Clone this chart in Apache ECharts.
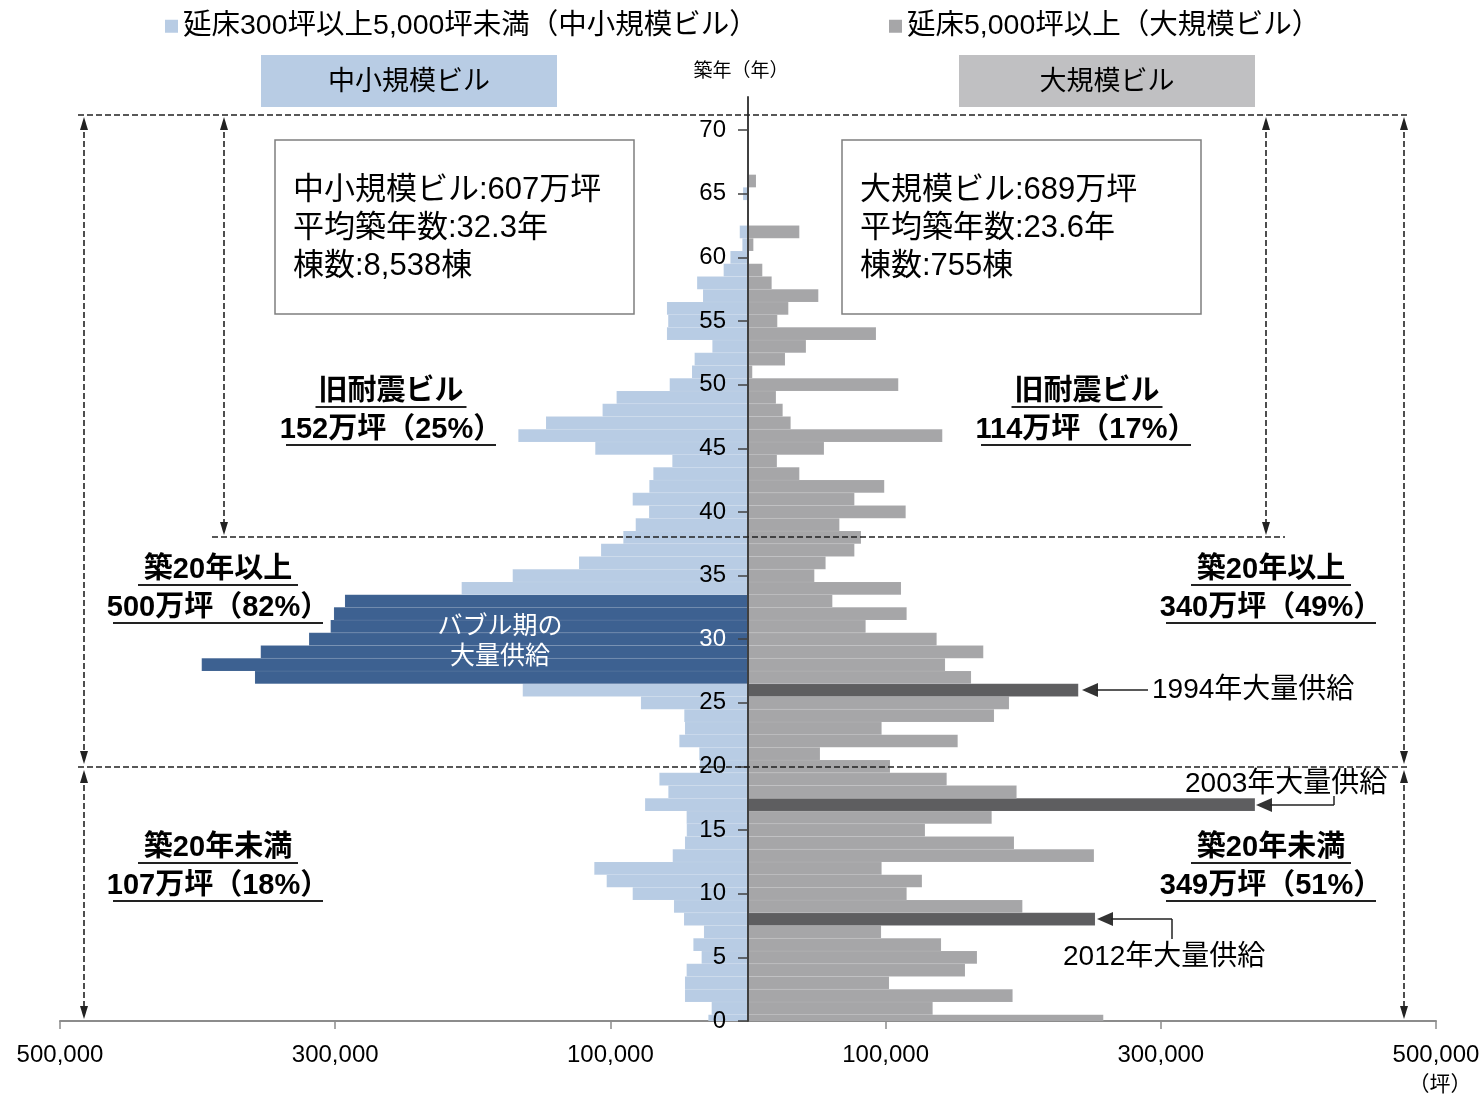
<!DOCTYPE html>
<html>
<head>
<meta charset="utf-8">
<script src="https://cdn.jsdelivr.net/npm/echarts@6/dist/echarts.min.js"></script>
<style>
html, body { margin: 0; padding: 0; background: #fff; }
#chart { width: 1482px; height: 1098px; }
</style>
</head>
<body>
<div id="chart"></div>
<script>
var FONT = '"Liberation Sans", "Noto Sans CJK JP", sans-serif';

// 築年数ごとの延床面積（坪）  index = 築年数（0〜66年）
var smallArea = [
  28800, 26400, 45800, 45800, 44600, 33700, 39700, 32000, 46500, 53800,
  83800, 102700, 111700, 54700, 45800, 44500, 44600, 74800, 57900, 64400,
  35000, 35400, 49900, 45800, 46300, 77800, 163700, 358300, 397000, 354100,
  319000, 303300, 300900, 292900, 208100, 171000, 122800, 106800, 90600, 81600,
  71900, 83800, 71700, 68800, 55000, 111000, 166900, 146800, 105700, 95500,
  56900, 40700, 38800, 25900, 58900, 58000, 58900, 32700, 37000, 17700,
  12800, 4100, 6000, 0, 0, 3600, 0
];
var largeArea = [
  258200, 134200, 192300, 102500, 157700, 166400, 140300, 96700, 252200, 199400,
  115300, 126400, 97100, 251400, 193300, 128600, 177100, 368400, 195200, 144400,
  103200, 52300, 152400, 97100, 178800, 189700, 240000, 162100, 143200, 171000,
  137100, 85500, 115300, 61300, 111200, 48200, 56400, 77300, 82100, 66400,
  114600, 77300, 99000, 37300, 21000, 55200, 141200, 31000, 25200, 20300,
  109200, 3100, 26900, 42100, 93000, 21300, 29300, 51100, 17200, 10400,
  0, 3900, 37300, 0, 0, 0, 5800
];
var bubbleAges = [27, 28, 29, 30, 31, 32, 33];   // バブル期の大量供給
var peakAges = [26, 17, 8];                       // 1994年・2003年・2012年
var yTicks = [0, 5, 10, 15, 20, 25, 30, 35, 40, 45, 50, 55, 60, 65, 70];
var xTicks = [-500000, -300000, -100000, 100000, 300000, 500000];

var NAME_S = '延床300坪以上5,000坪未満（中小規模ビル）';
var NAME_L = '延床5,000坪以上（大規模ビル）';

var chart = echarts.init(document.getElementById('chart'));

function barItem(side, hiAges, color, hiColor) {
  return function (params, api) {
    var age = api.value(0);
    var v = api.value(1);
    if (!v) return null;
    var p1 = api.coord([side * v, age + 0.5]);
    var p0 = api.coord([0, age - 0.5]);
    return {
      type: 'rect',
      shape: {
        x: Math.min(p0[0], p1[0]),
        y: p1[1],
        width: Math.abs(p1[0] - p0[0]),
        height: p0[1] - p1[1]
      },
      style: {
        fill: hiAges.indexOf(age) >= 0 ? hiColor : color,
        stroke: 'rgba(255,255,255,0.15)',
        lineWidth: 0.5
      }
    };
  };
}

// 注記用
function txt(x, y, s, size, o) {
  o = o || {};
  return {
    type: 'text', z: 100,
    style: {
      x: x, y: y, text: s,
      font: (o.bold ? 'bold ' : '') + size + 'px ' + FONT,
      fill: o.color || '#000',
      align: o.align || 'center',
      verticalAlign: 'middle'
    }
  };
}
function ln(x1, y1, x2, y2, dash, w) {
  return {
    type: 'line', z: 100,
    shape: { x1: x1, y1: y1, x2: x2, y2: y2 },
    style: { stroke: '#222', lineWidth: w || 1.6, lineDash: dash ? [6, 3] : null }
  };
}
function head(x, y, dir, len, half, color) {
  var pts;
  if (dir === 'up') pts = [[x, y], [x - half, y + len], [x + half, y + len]];
  if (dir === 'down') pts = [[x, y], [x - half, y - len], [x + half, y - len]];
  if (dir === 'left') pts = [[x, y], [x + len, y - half], [x + len, y + half]];
  return { type: 'polygon', z: 100, shape: { points: pts }, style: { fill: color || '#222' } };
}
function vArrow(x, y1, y2) {
  return [ln(x, y1 + 6, x, y2 - 6, true), head(x, y1, 'up', 13, 4), head(x, y2, 'down', 13, 4)];
}
function ulabel(cx, y, s, w) {
  return [txt(cx, y, s, 29, { bold: true }), ln(cx - w / 2, y + 15, cx + w / 2, y + 15, false, 2)];
}

var g = [];
// 見出し
g.push({ type: 'rect', shape: { x: 261, y: 55, width: 296, height: 52 }, style: { fill: '#b8cce4' } });
g.push({ type: 'rect', shape: { x: 959, y: 55, width: 296, height: 52 }, style: { fill: '#c0c0c2' } });
g.push(txt(409, 83, '中小規模ビル', 27));
g.push(txt(1107, 83, '大規模ビル', 27));
g.push(txt(741, 72, '築年（年）', 19));
// 集計ボックス
g.push({ type: 'rect', z: 90, shape: { x: 275, y: 140, width: 359, height: 174 }, style: { fill: '#fff', stroke: '#7f7f7f', lineWidth: 1.5 } });
g.push({ type: 'rect', z: 90, shape: { x: 842, y: 140, width: 359, height: 174 }, style: { fill: '#fff', stroke: '#7f7f7f', lineWidth: 1.5 } });
g.push(txt(293, 190, '中小規模ビル:607万坪', 31, { align: 'left' }));
g.push(txt(293, 228, '平均築年数:32.3年', 31, { align: 'left' }));
g.push(txt(293, 266, '棟数:8,538棟', 31, { align: 'left' }));
g.push(txt(860, 190, '大規模ビル:689万坪', 31, { align: 'left' }));
g.push(txt(860, 228, '平均築年数:23.6年', 31, { align: 'left' }));
g.push(txt(860, 266, '棟数:755棟', 31, { align: 'left' }));
// 区分線
g.push(ln(78, 115, 1410, 115, true));
g.push(ln(212, 537, 1285, 537, true));
g.push(ln(78, 767, 1410, 767, true));
g = g.concat(vArrow(84, 117, 764), vArrow(84, 770, 1019), vArrow(224, 117, 535),
  vArrow(1266, 117, 535), vArrow(1404, 117, 764), vArrow(1404, 770, 1019));
// 区分ラベル
g = g.concat(ulabel(391, 392, '旧耐震ビル', 151), ulabel(391, 430, '152万坪（25%）', 210));
g = g.concat(ulabel(1087, 392, '旧耐震ビル', 151), ulabel(1086, 430, '114万坪（17%）', 210));
g = g.concat(ulabel(218, 570, '築20年以上', 160), ulabel(218, 608, '500万坪（82%）', 210));
g = g.concat(ulabel(1271, 570, '築20年以上', 160), ulabel(1271, 608, '340万坪（49%）', 210));
g = g.concat(ulabel(218, 848, '築20年未満', 160), ulabel(218, 886, '107万坪（18%）', 210));
g = g.concat(ulabel(1271, 848, '築20年未満', 160), ulabel(1271, 886, '349万坪（51%）', 210));
g.push(txt(500, 627, 'バブル期の', 25, { color: '#fff' }));
g.push(txt(500, 657, '大量供給', 25, { color: '#fff' }));
// 大量供給の矢印
g.push(head(1082, 690, 'left', 16, 7, '#333'), ln(1096, 690, 1148, 690, false, 1.5));
g.push(txt(1152, 690, '1994年大量供給', 28, { align: 'left' }));
g.push(head(1256, 805, 'left', 16, 7, '#333'), ln(1270, 805, 1334, 805, false, 1.5), ln(1334, 796, 1334, 805, false, 1.5));
g.push(txt(1185, 784, '2003年大量供給', 28, { align: 'left' }));
g.push(head(1097, 919, 'left', 16, 7, '#333'), ln(1111, 919, 1172, 919, false, 1.5), ln(1172, 919, 1172, 939, false, 1.5));
g.push(txt(1063, 957, '2012年大量供給', 28, { align: 'left' }));
g.push(txt(1440, 1085, '（坪）', 21));

chart.setOption({
  animation: false,
  textStyle: { fontFamily: FONT },
  legend: [
    { data: [NAME_S], left: 160, top: 7, icon: 'rect', itemWidth: 13, itemHeight: 13,
      textStyle: { fontSize: 28.5, color: '#000', fontFamily: FONT } },
    { data: [NAME_L], left: 884, top: 7, icon: 'rect', itemWidth: 13, itemHeight: 13,
      textStyle: { fontSize: 28.5, color: '#000', fontFamily: FONT } }
  ],
  grid: { left: 60, right: 46, top: 97, bottom: 77, outerBoundsMode: 'none' },
  xAxis: {
    type: 'value', min: -500000, max: 500000,
    splitLine: { show: false },
    axisLine: { lineStyle: { color: '#8c8c8c', width: 2 } },
    axisTick: { customValues: xTicks, length: 8, lineStyle: { color: '#8c8c8c', width: 1.5 } },
    axisLabel: {
      customValues: xTicks, margin: 22, fontSize: 24, color: '#000', fontFamily: FONT,
      formatter: function (v) { return Math.abs(v).toLocaleString('en-US'); }
    }
  },
  yAxis: {
    type: 'value', min: 0, max: 72.6, z: 10,
    position: 'left', offset: -688,
    splitLine: { show: false },
    axisLine: { onZero: false, lineStyle: { color: '#404040', width: 2 } },
    axisTick: { customValues: yTicks, length: 10, lineStyle: { color: '#404040', width: 1.5 } },
    axisLabel: {
      customValues: yTicks, margin: 22, fontSize: 24, fontFamily: FONT,
      // バブル期の帯の上は白文字
      color: function (v) { return bubbleAges.indexOf(Number(v)) >= 0 ? '#fff' : '#000'; }
    }
  },
  series: [
    {
      name: NAME_S, type: 'custom', clip: true,
      itemStyle: { color: '#b8cce4' },
      encode: { x: 1, y: 0 },
      renderItem: barItem(-1, bubbleAges, '#b8cce4', '#3d6191'),
      data: smallArea.map(function (v, i) { return [i, v]; })
    },
    {
      name: NAME_L, type: 'custom', clip: true,
      itemStyle: { color: '#a6a6a8' },
      encode: { x: 1, y: 0 },
      renderItem: barItem(1, peakAges, '#a6a6a8', '#5e5e60'),
      data: largeArea.map(function (v, i) { return [i, v]; })
    }
  ],
  graphic: g
});
</script>
</body>
</html>
